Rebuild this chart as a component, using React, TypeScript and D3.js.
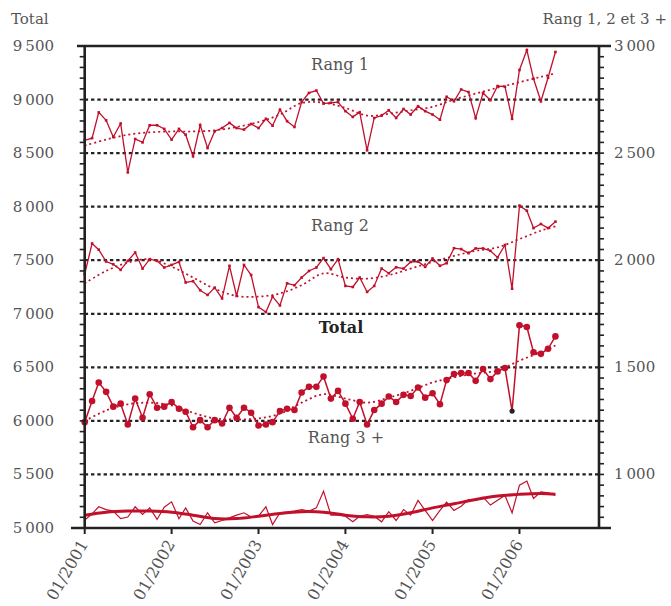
import React from "react";
import * as d3 from "d3";

// monthly values, 01/2001 .. 06/2006
const rang1 = [
  2560, 2570, 2690, 2653, 2575, 2638, 2410, 2566, 2550, 2630, 2630, 2613,
  2563, 2613, 2586, 2485, 2631, 2524, 2602, 2617, 2641, 2617, 2610, 2636,
  2617, 2660, 2628, 2703, 2649, 2622, 2738, 2781, 2792, 2731, 2735, 2738,
  2696, 2669, 2691, 2513, 2664, 2675, 2700, 2664, 2706, 2680, 2719, 2696,
  2680, 2656, 2763, 2742, 2797, 2785, 2663, 2781, 2747, 2813, 2810, 2660,
  2888, 2981, 2847, 2742, 2852, 2972,
];
const rang2 = [
  1935, 2078, 2049, 1994, 1981, 1955, 1997, 2036, 1961, 2005, 1997, 1966,
  1978, 1992, 1896, 1902, 1860, 1838, 1872, 1822, 1974, 1833, 1978, 1931,
  1781, 1758, 1830, 1789, 1892, 1883, 1919, 1950, 1966, 2010, 1958, 2005,
  1880, 1875, 1919, 1852, 1880, 1961, 1939, 1967, 1961, 1992, 1994, 1969,
  2008, 1974, 1986, 2056, 2052, 2033, 2055, 2055, 2044, 2013, 2071, 1867,
  2255, 2231, 2150, 2169, 2150, 2180,
];
const rang3 = [
  787, 816, 849, 836, 829, 794, 801, 849, 813, 844, 790, 847,
  872, 793, 844, 782, 766, 821, 774, 785, 797, 810, 821, 801,
  805, 849, 766, 821, 824, 829, 836, 829, 844, 922, 810, 810,
  805, 779, 805, 813, 805, 779, 826, 785, 836, 810, 879, 832,
  785, 832, 871, 832, 852, 883, 879, 894, 857, 879, 902, 821,
  950, 969, 888, 919, 914, 903,
];
const total = [
  5988, 6186, 6359, 6271, 6133, 6161, 5966, 6208, 6029, 6249, 6123, 6133,
  6177, 6114, 6086, 5941, 6007, 5941, 6007, 5976, 6123, 6029, 6123, 6076,
  5957, 5966, 5988, 6092, 6114, 6101, 6265, 6318, 6318, 6415, 6208, 6280,
  6161, 6020, 6177, 5966, 6101, 6161, 6227, 6177, 6243, 6233, 6312, 6217,
  6258, 6155, 6381, 6437, 6447, 6447, 6374, 6484, 6390, 6462, 6494, 6092,
  6893, 6877, 6641, 6626, 6673, 6789,
];

// trend lines, read at every third month
const trendMonths = [0, 3, 6, 9, 12, 15, 18, 21, 24, 27, 30, 33, 36, 39, 42, 45, 48, 51, 54, 57, 60, 63, 65];
const rang1Trend = [2535, 2563, 2586, 2597, 2601, 2601, 2606, 2622, 2645, 2680, 2734, 2735, 2711, 2675, 2684, 2700, 2716, 2750, 2778, 2805, 2831, 2856, 2872];
const rang2Trend = [1892, 1950, 1989, 2005, 1970, 1919, 1867, 1833, 1830, 1845, 1883, 1939, 1919, 1914, 1930, 1961, 1992, 2020, 2044, 2060, 2099, 2138, 2158];
const rang3Trend = [810, 824, 829, 829, 824, 810, 794, 794, 805, 818, 826, 824, 810, 802, 805, 821, 844, 863, 883, 899, 907, 911, 908];
const totalTrend = [5998, 6098, 6155, 6170, 6145, 6076, 6023, 6013, 6023, 6067, 6170, 6249, 6208, 6170, 6217, 6280, 6359, 6406, 6443, 6469, 6563, 6641, 6704];

const leftTicks = [5000, 5500, 6000, 6500, 7000, 7500, 8000, 8500, 9000, 9500];
const rightTicks = [1000, 1500, 2000, 2500, 3000];
const gridValues = [5500, 6000, 6500, 7000, 7500, 8000, 8500, 9000];
const yearLabels = ["01/2001", "01/2002", "01/2003", "01/2004", "01/2005", "01/2006"];
const outlierMonth = 59;

const RED = "#c1102c";
const INK = "#222";
const TXT = "#555";
const FONT = "'DejaVu Serif', serif";

const start = new Date(2001, 0, 1);
const monthDate = (i: number) => d3.timeMonth.offset(start, i);
const fmt = (v: number) => d3.format(",")(v).replace(",", "\u2009");

export default function App() {
  const left = 84.7;
  const right = 599;
  const top = 46;
  const bottom = 528;

  const x = d3.scaleTime().domain([start, monthDate(71)]).range([left, right]);
  const yL = d3.scaleLinear().domain([5000, 9500]).range([bottom, top]);
  const yR = d3.scaleLinear().domain([750, 3000]).range([bottom, top]);

  const lineR = d3
    .line<number>()
    .x((_, i) => x(monthDate(i)))
    .y((d) => yR(d));
  const lineL = d3
    .line<number>()
    .x((_, i) => x(monthDate(i)))
    .y((d) => yL(d));
  const trendR = d3
    .line<number>()
    .x((_, i) => x(monthDate(trendMonths[i])))
    .y((d) => yR(d))
    .curve(d3.curveCatmullRom);
  const trendL = d3
    .line<number>()
    .x((_, i) => x(monthDate(trendMonths[i])))
    .y((d) => yL(d))
    .curve(d3.curveCatmullRom);

  const minor = d3.range(5000, 9501, 100);

  return (
    <svg
      width={671}
      height={606}
      style={{ position: "absolute", left: 0, top: 0, background: "#fff" }}
      fontFamily={FONT}
    >
      {/* grid */}
      {gridValues.map((v) => (
        <line
          key={v}
          x1={left}
          x2={right}
          y1={yL(v)}
          y2={yL(v)}
          stroke={INK}
          strokeWidth={2.2}
          strokeDasharray="3.4,2.9"
        />
      ))}

      {/* Rang 3 */}
      <path d={lineR(rang3) ?? ""} fill="none" stroke={RED} strokeWidth={1.2} />
      <path d={trendR(rang3Trend) ?? ""} fill="none" stroke={RED} strokeWidth={3} />

      {/* Rang 1 and Rang 2 */}
      {[rang1, rang2].map((s, k) => (
        <g key={k}>
          <path
            d={trendR(k === 0 ? rang1Trend : rang2Trend) ?? ""}
            fill="none"
            stroke={RED}
            strokeWidth={1.7}
            strokeDasharray="2,3"
          />
          <path d={lineR(s) ?? ""} fill="none" stroke={RED} strokeWidth={1.3} />
          {s.map((d, i) => (
            <rect
              key={i}
              x={x(monthDate(i)) - 1.3}
              y={yR(d) - 1.3}
              width={2.6}
              height={2.6}
              fill={RED}
            />
          ))}
        </g>
      ))}

      {/* Total */}
      <path
        d={trendL(totalTrend) ?? ""}
        fill="none"
        stroke={RED}
        strokeWidth={1.8}
        strokeDasharray="2,3"
      />
      <path d={lineL(total) ?? ""} fill="none" stroke={RED} strokeWidth={1.5} />
      {total.map((d, i) => (
        <circle
          key={i}
          cx={x(monthDate(i))}
          cy={yL(d)}
          r={i === outlierMonth ? 2.6 : 3.3}
          fill={i === outlierMonth ? INK : RED}
        />
      ))}

      {/* series labels */}
      <g fill={TXT} fontSize={16} textAnchor="middle">
        <text x={340} y={70}>Rang 1</text>
        <text x={340} y={231}>Rang 2</text>
        <text x={341} y={333} fontWeight="bold" fill={INK}>Total</text>
        <text x={346} y={443}>Rang 3 +</text>
      </g>

      {/* frame */}
      <line x1={77} x2={611} y1={top} y2={top} stroke={INK} strokeWidth={2.6} />
      <line x1={71} x2={611} y1={bottom} y2={bottom} stroke={INK} strokeWidth={2.6} />
      <line x1={left} x2={left} y1={top} y2={bottom} stroke={INK} strokeWidth={2.6} />
      <line x1={right} x2={right} y1={top} y2={bottom} stroke={INK} strokeWidth={2.6} />

      {/* minor ticks */}
      {minor.map((v) => (
        <g key={v} stroke={INK} strokeWidth={1.6}>
          <line x1={left - 5} x2={left} y1={yL(v)} y2={yL(v)} />
          <line x1={right} x2={right + 5} y1={yL(v)} y2={yL(v)} />
        </g>
      ))}

      {/* left axis */}
      <g fill={TXT} fontSize={15} textAnchor="end">
        {leftTicks.map((v) => (
          <text key={v} x={54} y={yL(v) + 5}>
            {fmt(v)}
          </text>
        ))}
      </g>
      {/* right axis */}
      <g fill={TXT} fontSize={15} textAnchor="start">
        {rightTicks.map((v) => (
          <text key={v} x={614} y={yR(v) + 5}>
            {fmt(v)}
          </text>
        ))}
      </g>
      <text x={11} y={24} fontSize={15} fill={TXT}>Total</text>
      <text x={667} y={24} fontSize={15} fill={TXT} textAnchor="end">
        Rang 1, 2 et 3 +
      </text>

      {/* x axis */}
      {yearLabels.map((lab, k) => {
        const px = x(monthDate(k * 12));
        return (
          <g key={lab}>
            <line x1={px} x2={px} y1={bottom} y2={bottom + 6} stroke={INK} strokeWidth={2} />
            <text
              transform={`translate(${px + 4},${bottom + 16}) rotate(-60)`}
              textAnchor="end"
              fontSize={16}
              fill={TXT}
            >
              {lab}
            </text>
          </g>
        );
      })}
    </svg>
  );
}
